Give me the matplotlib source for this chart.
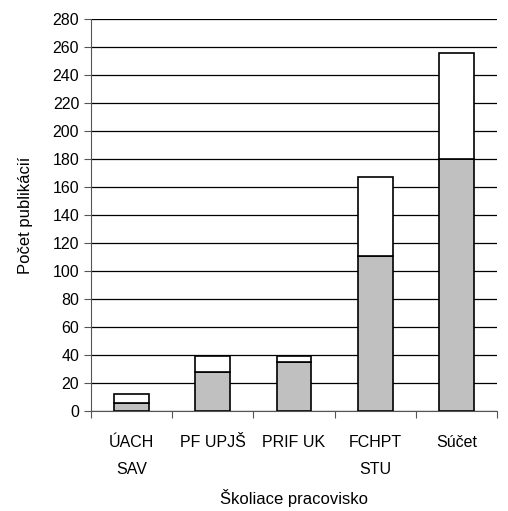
import matplotlib.pyplot as plt
import numpy as np

plt.rcParams['font.family'] = ['Liberation Sans', 'DejaVu Sans']

categories = ['ÚACH\nSAV', 'PF UPJŠ', 'PRIF UK', 'FCHPT\nSTU', 'Súčet']
gray_vals = [6, 28, 35, 111, 180]
white_vals = [6, 11, 4, 56, 76]

fig = plt.figure(figsize=(5.08, 5.11), dpi=100)
ax = fig.add_axes([91 / 508, 1 - 411 / 511, 406 / 508, 392 / 511])

x = np.arange(len(categories))
w = 0.43
ax.bar(x, gray_vals, w, color='#c0c0c0', edgecolor='black', linewidth=1.2, zorder=3)
ax.bar(x, white_vals, w, bottom=gray_vals, color='white', edgecolor='black', linewidth=1.2, zorder=3)

ax.set_xlim(-0.5, len(categories) - 0.5)
ax.set_ylim(0, 280)
ax.set_yticks(range(0, 281, 20))
ax.yaxis.grid(True, color='black', linewidth=0.9, zorder=0)
ax.set_axisbelow(True)

ax.set_xticks(np.arange(len(categories) + 1) - 0.5)
ax.set_xticklabels([])
ax.set_xticks(x, minor=True)
ax.set_xticklabels(categories, minor=True, fontsize=11.5, linespacing=2.0)
ax.tick_params(axis='x', which='minor', length=0, pad=17)
ax.tick_params(axis='x', which='major', length=5, color='#555555')
ax.tick_params(axis='y', length=5, labelsize=11.5, color='#555555')

for s in ['top', 'right']:
    ax.spines[s].set_visible(False)
ax.spines['left'].set_color('#555555')
ax.spines['bottom'].set_color('#555555')

ax.set_ylabel('Počet publikácií', fontsize=12, labelpad=14)
ax.set_xlabel('Školiace pracovisko', fontsize=12, labelpad=9)

fig.savefig('out.png', dpi=100)
